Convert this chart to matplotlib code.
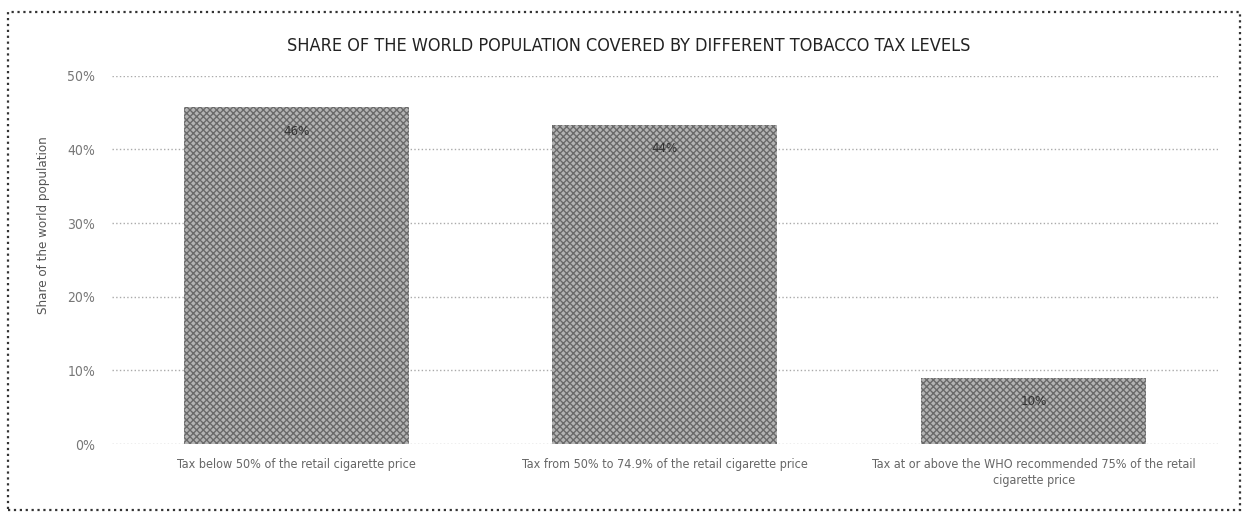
import matplotlib.pyplot as plt
from matplotlib.patches import Rectangle

# data
categories = ['Tax below 50% of the retail cigarette price',
              'Tax from 50% to 74.9% of the retail cigarette price',
              'Tax at or above the WHO recommended 75% of the retail\ncigarette price']
shares = [45.7, 43.3, 9.0]
share_labels = ['46%', '44%', '10%']
yticks = [0, 10, 20, 30, 40, 50]
ytick_labels = ['0%', '10%', '20%', '30%', '40%', '50%']

narrow = dict(family='DejaVu Sans', stretch='condensed')

fig = plt.figure(figsize=(12.57, 5.23), dpi=100)
ax = fig.add_axes([0.089, 0.151, 0.880, 0.704])

x = range(len(categories))
bars = ax.bar(x, shares, width=0.61, color='#b4b4b4', edgecolor='#6a6a6a',
              hatch='xxxxx', linewidth=0, zorder=2)

for i, lab in enumerate(share_labels):
    ax.text(i, shares[i] - 3.2, lab, ha='center', va='center',
            fontsize=9.5, color='#333333', zorder=3, **narrow)

ax.set_xlim(-0.5, 2.5)
ax.set_ylim(0, 50)
ax.set_yticks(yticks)
ax.set_yticklabels(ytick_labels, fontsize=10, color='#777777', **narrow)
ax.set_xticks(list(x))
ax.set_xticklabels(categories, fontsize=9, color='#666666',
                   linespacing=1.3, va='top', **narrow)
ax.tick_params(axis='y', length=0, pad=12)
ax.tick_params(axis='x', length=0, pad=10)
ax.yaxis.grid(True, linestyle=':', color='#aaaaaa', linewidth=1, zorder=0)
for s in ax.spines.values():
    s.set_visible(False)

ax.set_ylabel('Share of the world population', fontsize=9.5,
              color='#555555', **narrow)
ax.yaxis.set_label_coords(-0.056, 0.595)

fig.text(0.5, 0.913, 'SHARE OF THE WORLD POPULATION COVERED BY DIFFERENT TOBACCO TAX LEVELS',
         ha='center', va='center', fontsize=13, color='#222222', **narrow)

# dotted frame around the whole graphic
frame = Rectangle((8 / 1257, 1 - 510 / 523), 1232 / 1257, 498 / 523,
                  transform=fig.transFigure, fill=False, linestyle=':',
                  linewidth=1.6, edgecolor='#333333')
fig.patches.append(frame)

fig.savefig('out.png', dpi=100)
